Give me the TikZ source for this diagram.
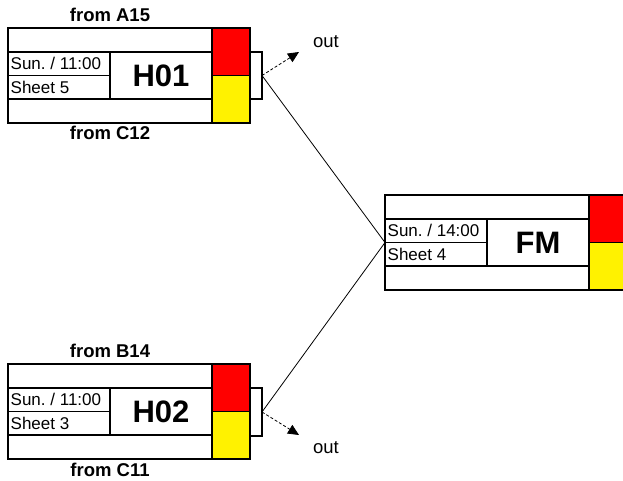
\documentclass[tikz,border=0pt]{standalone}
\usepackage{fontspec}
\setmainfont{Liberation Sans}
\usetikzlibrary{arrows.meta}
\frenchspacing

\tikzset{
  cell/.style={line width=1.2pt},
  txt/.style={anchor=west,inner sep=2.5pt,font=\fontsize{17}{19}\selectfont},
  title/.style={font=\bfseries\fontsize{31}{35}\selectfont},
  from/.style={font=\bfseries\fontsize{18.5}{20}\selectfont},
  outlbl/.style={font=\fontsize{18.5}{20}\selectfont},
  link/.style={line width=0.8pt},
  outarrow/.style={line width=0.8pt,dash pattern=on 3pt off 2pt,-{Triangle[length=11pt,width=10pt]}}
}

% one match: name, top-left corner, time, sheet, title
\newcommand{\matchbox}[5]{
\begin{scope}[shift={#2}]
\draw[cell] (0,0) rectangle (204,95);
\draw[cell] (0,24) -- (204,24);
\draw[cell] (0,71) -- (204,71);
\draw[cell] (102,24) -- (102,71);
\draw[cell] (0,47.5) -- (102,47.5);
\draw[cell,fill=red] (204,0) rectangle (242,47.5);
\draw[cell,fill=yellow] (204,47.5) rectangle (242,95);
\node[txt] (#1-time) at (0,35.75) {#3};
\node[txt] (#1-sheet) at (0,59.25) {#4};
\node[title] (#1-title) at (153,47.5) {#5};
\coordinate (#1-in) at (0,47.5);
\end{scope}}

\begin{document}
\begin{tikzpicture}[x=1pt,y=-1pt]
\useasboundingbox (0,0) rectangle (623,481);

\matchbox{h1}{(8,28)}{Sun. / 11:00}{Sheet 5}{H01}
\matchbox{h2}{(8,364)}{Sun. / 11:00}{Sheet 3}{H02}
\matchbox{fm}{(385,195)}{Sun. / 14:00}{Sheet 4}{FM}

\draw[cell] (250,52) rectangle (262,99);
\draw[cell] (250,388) rectangle (262,436);
\coordinate (h1-out) at (262,75.5);
\coordinate (h2-out) at (262,412);

\node[from] (a15) at (110,15) {from A15};
\node[from] (c12) at (110,133) {from C12};
\node[from] (b14) at (110,351) {from B14};
\node[from] (c11) at (110,470) {from C11};

\node[outlbl] (out1) at (326,42) {out};
\node[outlbl] (out2) at (326,448) {out};
\coordinate (tip1) at (299,52);
\coordinate (tip2) at (299,435);

\draw[link] (h1-out) -- (fm-in);
\draw[link] (h2-out) -- (fm-in);
\draw[outarrow] (h1-out) -- (tip1);
\draw[outarrow] (h2-out) -- (tip2);
\end{tikzpicture}
\end{document}
